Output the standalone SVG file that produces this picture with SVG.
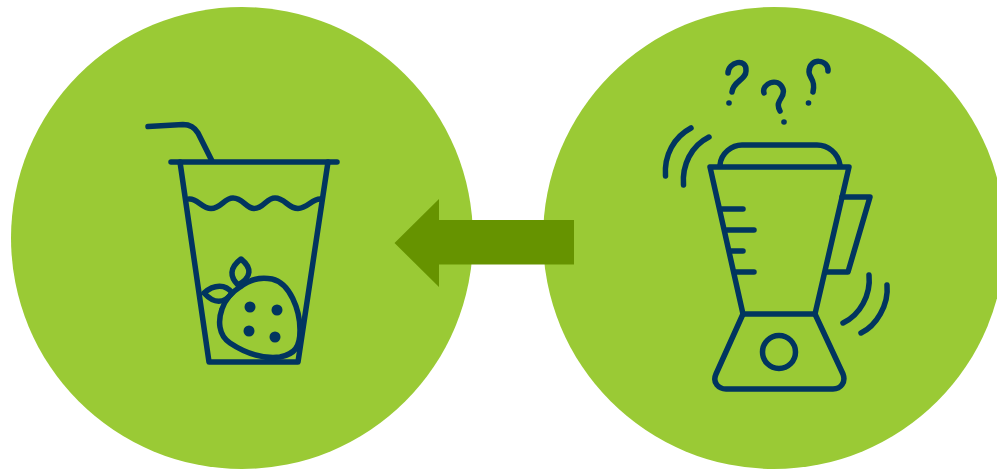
<svg xmlns="http://www.w3.org/2000/svg" width="997" height="471" viewBox="0 0 997 471">
<style>
.bg{fill:#9aca35}
.i{fill:none;stroke:#01355f;stroke-width:5.500;stroke-linecap:round;stroke-linejoin:round}
.d{fill:#01355f}
</style>
<rect width="997" height="471" fill="#fff"/>
<g id="circle-left"><circle class="bg" cx="242" cy="238" r="231"/></g>
<g id="circle-right"><circle class="bg" cx="774" cy="238" r="231"/></g>
<g id="connectors"><path fill="#669300" d="M394.500 243L439 199V220H574V264.500H439V287Z"/></g>
<g id="cup">
<path class="i" d="M148 126.500L183 124.500Q193 124.500 198 133L212 161"/>
<path class="i" d="M171 162H337"/>
<path class="i" d="M180 162L209 362H298L328 162"/>
<path class="i" d="M189 199C197 198 202 208.500 211 208.500C221 208.500 224 198 233 198C243 198 246 208.500 254 208.500C264 208.500 266 198 275 198C285 198 288 208.500 298 208.500C307 208.500 312 199 320 199"/>
<path class="i" d="M240 287C250 279 262 277 272 279C290 283 300 310 300 330C300 347 295 354 280 357C262 359 245 353 230 343C218 335 218 320 222 309C225 300 232 292 240 287Z"/>
<path class="i" d="M238 285C230 277 229 268 241 259C252 268 252 277 238 285Z"/>
<path class="i" d="M232 293C226 284 214 284 204 293C214 304 224 304 232 293Z"/>
<circle class="d" cx="250" cy="307" r="5.500"/><circle class="d" cx="277" cy="310" r="5.500"/><circle class="d" cx="249" cy="331" r="5.500"/><circle class="d" cx="275" cy="337" r="5.500"/>
</g>
<g id="blender">
<path class="i" d="M710 167H849L815 314H743Z"/>
<path class="i" d="M720 165C721 153 732 145 742 145H817C828 145 838 153 840 165"/>
<path class="i" d="M722 209H743M727 230H754M731 251H743M736 272H754"/>
<path class="i" d="M842 197H870L848 272H827"/>
<path class="i" d="M743 314L716 374C712 383 719 389 726 389H833C841 389 846 382 843 374L815 314"/>
<circle class="i" cx="779" cy="352" r="16.500"/>
<path class="i" d="M665.500 176C664 155 674 137 691 128"/>
<path class="i" d="M683.500 185C682 165 691 146 709 137"/>
<path class="i" d="M869 275C871 295 860 315 843 323"/>
<path class="i" d="M887 285C889 305 876 326 861 333"/>
<path class="i" d="M728 73C728 62 747 57 746 71C746 80 733 81 732 92"/>
<circle class="d" cx="729" cy="103" r="2.800"/>
<path class="i" d="M764 93C761 84 778 76 783 89C786 98 774 100 780 111"/>
<circle class="d" cx="784" cy="122" r="2.800"/>
<path class="i" d="M828 71C829 59 809 57 809 72C809 78 816 80 813 92"/>
<circle class="d" cx="808.500" cy="103" r="2.800"/>
</g>
</svg>
